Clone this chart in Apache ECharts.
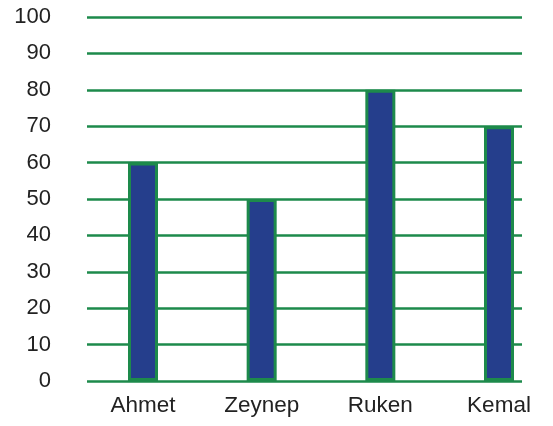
<!DOCTYPE html>
<html><head><meta charset="utf-8">
<script src="https://cdn.jsdelivr.net/npm/echarts@6/dist/echarts.min.js"></script>
<style>html,body{margin:0;padding:0;background:#fff}#c{width:553px;height:426px}</style>
</head><body><div id="c"></div>
<script>
const categories = ['Ahmet', 'Zeynep', 'Ruken', 'Kemal'];
const values = [60, 50, 80, 70];
const yTicks = [0, 10, 20, 30, 40, 50, 60, 70, 80, 90, 100];

const green = '#1d8a4b';
const font = 'Liberation Sans, Arial, sans-serif';
const chart = echarts.init(document.getElementById('c'));
chart.setOption({
  animation: false,
  grid: [
    {left: 87, right: 31, top: 17, bottom: 45},
    {left: 143, right: 54, top: 17, bottom: 45}
  ],
  xAxis: [
    {gridIndex: 0, type: 'category', data: categories, show: false},
    {gridIndex: 1, type: 'category', data: categories, boundaryGap: false,
     axisLine: {show: false}, axisTick: {show: false}, splitLine: {show: false},
     axisLabel: {color: '#222', fontSize: 22.5, fontFamily: font, margin: 13}}
  ],
  yAxis: [
    {gridIndex: 0, type: 'value', min: yTicks[0], max: yTicks[yTicks.length - 1], interval: 10,
     axisLine: {show: false}, axisTick: {show: false},
     splitLine: {show: true, lineStyle: {color: green, width: 2.5}},
     axisLabel: {color: '#222', fontSize: 22, fontFamily: font, margin: 36}},
    {gridIndex: 1, type: 'value', min: yTicks[0], max: yTicks[yTicks.length - 1], interval: 10, show: false}
  ],
  series: [{
    type: 'bar', xAxisIndex: 1, yAxisIndex: 1, data: values, barWidth: 30,
    itemStyle: {color: '#253e8c', borderColor: green, borderWidth: 3}
  }]
});
</script></body></html>
